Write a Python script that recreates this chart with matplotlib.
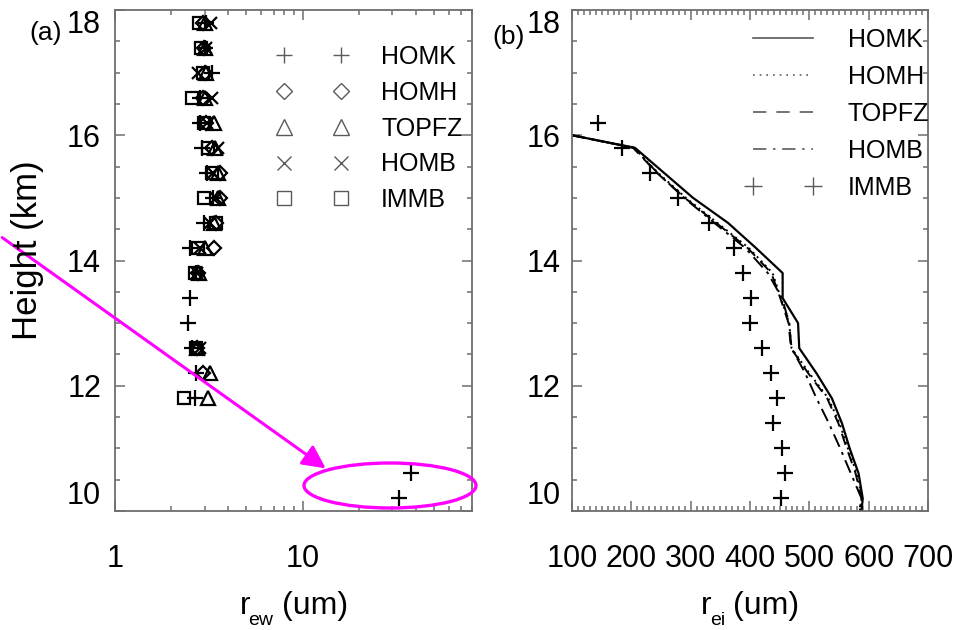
import numpy as np
import matplotlib
matplotlib.use("Agg")
import matplotlib.pyplot as plt
from matplotlib.lines import Line2D
from matplotlib.legend_handler import HandlerLine2D
from matplotlib.patches import Ellipse, FancyArrowPatch
from matplotlib.ticker import LogLocator, MultipleLocator, FixedLocator, NullFormatter

plt.rcParams['font.family'] = ['Liberation Sans', 'DejaVu Sans']

# ---------------- data: panel (a) ----------------
nan = np.nan
heights_a = [17.8, 17.4, 17.0, 16.6, 16.2, 15.8, 15.4, 15.0, 14.6, 14.2, 13.8, 13.4, 13.0, 12.6, 12.2, 11.8, 10.6, 10.2]
homk_a  = [3.07, 3.03, 3.30, 2.85, 2.85, 2.92, 3.10, 3.34, 2.99, 2.52, 2.71, 2.52, 2.46, 2.58, 2.71, 2.68, 37.8, 32.6]
homh_a  = [2.95, 2.99, 3.03, 2.95, 3.06, 3.30, 3.64, 3.64, 3.47, 3.38, 2.78, nan, nan, 2.75, 2.95, nan, nan, nan]
topfz_a = [3.03, 3.03, 3.06, 3.03, 3.38, 3.42, 3.55, 3.55, 3.38, 3.03, 2.81, nan, nan, 2.75, 3.22, 3.14, nan, nan]
homb_a  = [3.26, 3.06, 2.78, 3.30, 3.10, 3.55, 3.34, 3.47, 3.22, 2.85, 2.75, nan, nan, 2.85, nan, nan, nan, nan]
immb_a  = [2.81, 2.88, 2.95, 2.58, 2.99, 3.14, 3.30, 2.99, 3.47, 2.78, 2.68, nan, nan, 2.71, nan, 2.34, nan, nan]

# ---------------- data: panel (b) ----------------
heights_b = [16.0, 15.8, 15.4, 15.0, 14.6, 14.2, 13.8, 13.4, 13.0, 12.6, 12.2, 11.8, 11.4, 11.0, 10.6, 10.2, 10.0]
homk_b  = [100, 206, 255, 304, 363, 410, 455, 455, 481, 483, 512, 538, 555, 568, 583, 590, 588]
homh_b  = [100, 204, 245, 292, 345, 398, 438, 452, 466, 470, 500, 532, 551, 565, 580, 589, 586]
topfz_b = [100, 203, 243, 290, 343, 396, 436, 451, 465, 469, 498, 530, 549, 563, 578, 588, 585]
homb_b  = [100, 204, 244, 289, 340, 392, 430, 454, 466, 470, 493, 512, 533, 552, 570, 588, 584]
heights_immb_b = [16.2, 15.8, 15.4, 15.0, 14.6, 14.2, 13.8, 13.4, 13.0, 12.6, 12.2, 11.8, 11.4, 11.0, 10.6, 10.2]
immb_b = [144, 185, 232, 279, 331, 373, 389, 402, 400, 420, 435, 446, 438, 454, 459, 453]

labels = ["HOMK", "HOMH", "TOPFZ", "HOMB", "IMMB"]

W, H = 957, 630
fig = plt.figure(figsize=(W / 100, H / 100), dpi=100)

def rect(x0, x1, ytop, ybot):
    return [x0 / W, 1 - ybot / H, (x1 - x0) / W, (ybot - ytop) / H]

axa = fig.add_axes(rect(115, 472, 10, 511))
axb = fig.add_axes(rect(572, 928, 10, 511))

spine_col = '#6e6e6e'
for ax in (axa, axb):
    for s in ax.spines.values():
        s.set_color(spine_col)
        s.set_linewidth(1.3)
    ax.tick_params(which='both', direction='in', top=True, right=True, color=spine_col, width=1.1)
    ax.tick_params(which='major', length=7)
    ax.tick_params(which='minor', length=3.5)
    ax.tick_params(axis='x', which='major', pad=24, labelsize=22)
    ax.tick_params(axis='y', which='major', labelsize=22)
    ax.set_ylim(10, 18)
    ax.yaxis.set_major_locator(FixedLocator([10, 12, 14, 16, 18]))
    ax.yaxis.set_minor_locator(MultipleLocator(0.5))

axa.tick_params(axis='y', pad=10)
axb.tick_params(axis='y', pad=8)

# panel (a)
mk = dict(color='black', linestyle='none', fillstyle='none', mew=1.6)
axa.plot(homb_a, heights_a, marker='x', ms=9, **mk)
axa.plot(topfz_a, heights_a, marker='^', ms=10, **mk)
axa.plot(homh_a, heights_a, marker='D', ms=7, **mk)
axa.plot(immb_a, heights_a, marker='s', ms=9, **mk)
axa.plot(homk_a, heights_a, marker='+', ms=11, **mk)
axa.set_xscale('log')
axa.set_xlim(1, 80)
axa.xaxis.set_major_locator(FixedLocator([1, 10]))
axa.xaxis.set_major_formatter(matplotlib.ticker.FixedFormatter(['1', '10']))
axa.xaxis.set_minor_locator(LogLocator(base=10, subs=np.arange(2, 10), numticks=20))
axa.xaxis.set_minor_formatter(NullFormatter())

lg_col = '#5a5a5a'
lmk = dict(color=lg_col, linestyle='none', fillstyle='none', mew=1.0)
handles_a = [Line2D([], [], marker='+', ms=12, **lmk),
             Line2D([], [], marker='D', ms=8, **lmk),
             Line2D([], [], marker='^', ms=11, **lmk),
             Line2D([], [], marker='x', ms=10, **lmk),
             Line2D([], [], marker='s', ms=10, **lmk)]
leg_a = axa.legend(handles_a, labels, loc='upper left', bbox_to_anchor=((276 - 115) / 357, (511 - 45) / 501),
                   frameon=False, numpoints=2, handlelength=2.9, handletextpad=1.3, labelspacing=0.47,
                   borderpad=0, borderaxespad=0, fontsize=18,
                   handler_map={Line2D: HandlerLine2D(marker_pad=0.3)})

# panel (b)
axb.plot(homk_b, heights_b, color='black', lw=1.6, linestyle='-')
axb.plot(homh_b, heights_b, color='black', lw=1.4, linestyle=(0, (1, 2)))
axb.plot(topfz_b, heights_b, color='black', lw=1.4, linestyle=(0, (6, 4)))
axb.plot(homb_b, heights_b, color='black', lw=1.4, linestyle=(0, (7, 3, 1.5, 3)))
axb.plot(immb_b, heights_immb_b, color='black', linestyle='none', marker='+', ms=11, mew=1.6)
axb.set_xlim(100, 700)
axb.xaxis.set_major_locator(MultipleLocator(100))
axb.xaxis.set_minor_locator(MultipleLocator(10))

handles_b = [Line2D([], [], color=lg_col, lw=1.2, linestyle='-'),
             Line2D([], [], color=lg_col, lw=1.2, linestyle=(0, (1, 3))),
             Line2D([], [], color=lg_col, lw=1.2, linestyle=(0, (8, 6))),
             Line2D([], [], color=lg_col, lw=1.2, linestyle=(0, (8, 4, 1.5, 4))),
             Line2D([], [], color=lg_col, linestyle='none', marker='+', ms=13, mew=1.0)]
leg_b = axb.legend(handles_b, labels, loc='upper left', bbox_to_anchor=((753 - 572) / 356, (511 - 28) / 501),
                   frameon=False, numpoints=2, handlelength=2.4, handletextpad=1.4, labelspacing=0.52,
                   borderpad=0, borderaxespad=0, fontsize=18,
                   handler_map={Line2D: HandlerLine2D(marker_pad=0.0)})

# end tick labels sit inside the axis range (top below, bottom above)
fig.canvas.draw()
for ax in (axa, axb):
    lbls = ax.get_yticklabels()
    lbls[-1].set_va('top')
    lbls[0].set_va('bottom')

# text labels
def ft(x, y, s, **kw):
    fig.text(x / W, 1 - y / H, s, **kw)

ft(46, 33, '(a)', fontsize=19, ha='center', va='center')
ft(509, 37, '(b)', fontsize=19, ha='center', va='center')
ft(28, 250, 'Height (km)', fontsize=25, rotation=90, ha='center', va='center')
ft(245, 614, 'r', fontsize=23, ha='center', va='baseline')
ft(315, 614, '(um)', fontsize=23, ha='center', va='baseline')
ft(261, 629, 'ew', fontsize=14, ha='center', va='bottom')
ft(706, 614, 'r', fontsize=23, ha='center', va='baseline')
ft(766, 614, '(um)', fontsize=23, ha='center', va='baseline')
ft(718, 629, 'ei', fontsize=14, ha='center', va='bottom')

# magenta annotation
mag = '#ff00ff'
arrow = FancyArrowPatch((0 / W, 1 - 236 / H), (328 / W, 1 - 470 / H), transform=fig.transFigure,
                        arrowstyle='-|>,head_length=7,head_width=3.5', color=mag, lw=2.2, mutation_scale=2)
fig.add_artist(arrow)
ell = Ellipse((390 / W, 1 - 485.5 / H), 172 / W, 45 / H, transform=fig.transFigure,
              fill=False, edgecolor=mag, lw=2.4)
fig.add_artist(ell)

fig.savefig('out.png', dpi=100)
